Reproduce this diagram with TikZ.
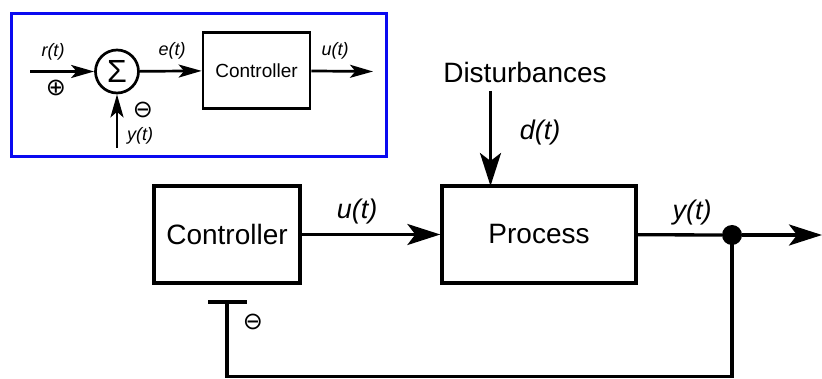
\documentclass[tikz,border=0pt]{standalone}
\usepackage{fontspec}
\setmainfont{Liberation Sans}
\newfontfamily\symfont{DejaVu Sans}
\usetikzlibrary{arrows.meta}

\definecolor{frameblue}{RGB}{10,10,240}

\tikzset{
  wire/.style={line width=3.3pt},
  bigarrow/.style={wire,-{Stealth[length=33pt,width=21pt,inset=8pt]}},
  smallwire/.style={line width=2.7pt},
  smallarrow/.style={smallwire,-{Stealth[length=23pt,width=13pt,inset=5.5pt]}},
  bigbox/.style={draw,line width=3.3pt,minimum height=97pt,inner sep=0pt,font=\fontsize{28}{30}\selectfont},
  smallbox/.style={draw,line width=2.7pt,minimum width=107pt,minimum height=76pt,inner sep=0pt,font=\fontsize{19}{21}\selectfont},
  biglabel/.style={inner sep=0pt,font=\fontsize{27}{29}\selectfont\itshape},
  smalllabel/.style={inner sep=0pt,font=\fontsize{18}{20}\selectfont\itshape},
  signmark/.style={inner sep=0pt,font=\fontsize{24}{26}\symfont},
}

\begin{document}
\begin{tikzpicture}[x=1pt,y=-1pt]
\useasboundingbox (0,0) rectangle (822,379);

% ---- small summing-junction sketch in the framed corner ----
\draw[frameblue,line width=3.6pt] (11.5,13.5) rectangle (386.5,156.5);

\node[draw,circle,line width=2.7pt,minimum size=43pt,inner sep=0pt,
      font=\fontsize{32}{34}\selectfont] (sum) at (117,71.5) {Σ};
\node[smallbox] (ctlsmall) at (256.5,70.5) {Controller};

\coordinate (rin) at (30,71.5);
\coordinate (uout) at (373,71.5);
\coordinate (yin) at (117,148);

\draw[smallarrow] (rin) -- (sum);
\draw[smallarrow] (sum) -- (ctlsmall);
\draw[smallarrow] (ctlsmall) -- (uout);
\draw[smallarrow] (yin) -- (sum);

\node[smalllabel] (rlab) at (53,52) {r(t)};
\node[smalllabel] (elab) at (172,51) {e(t)};
\node[smalllabel] (ulab) at (335,51) {u(t)};
\node[smalllabel] (ylab) at (140,136) {y(t)};
\node[signmark] (plus) at (56,88) {⊕};
\node[signmark] (minus) at (143,110) {⊖};

% ---- main loop ----
\node[bigbox,minimum width=146pt] (ctl) at (227,234.5) {Controller};
\node[bigbox,minimum width=194pt] (proc) at (539,234.5) {Process};

\node[inner sep=0pt,font=\fontsize{28}{30}\selectfont] (dist) at (525,72) {Disturbances};
\coordinate (dtop) at (490.5,91);
\coordinate (dbot) at (490.5,186);

\draw[bigarrow] (dtop) -- (dbot);
\draw[bigarrow] (ctl) -- (proc);

\node[circle,fill,inner sep=0pt,minimum size=20pt] (dot) at (732,235) {};
\coordinate (out) at (822,235);
\draw[wire] (proc) -- (dot);
\draw[bigarrow] (dot) -- (out);

\node[biglabel] (dlab) at (540,133) {d(t)};
\node[biglabel] (ulab2) at (357,212) {u(t)};
\node[biglabel] (ylab2) at (692,213) {y(t)};

% feedback path ending in a bar below the controller
\coordinate (fbcorner) at (227,376.5);
\coordinate (tee) at (227,302);
\coordinate (teeL) at (208,302);
\coordinate (teeR) at (247,302);
\draw[wire] (dot.center) -- (dot.center |- fbcorner) -- (fbcorner) -- (tee);
\draw[wire] (teeL) -- (teeR);
\node[signmark] (minus2) at (253,322) {⊖};
\end{tikzpicture}
\end{document}
